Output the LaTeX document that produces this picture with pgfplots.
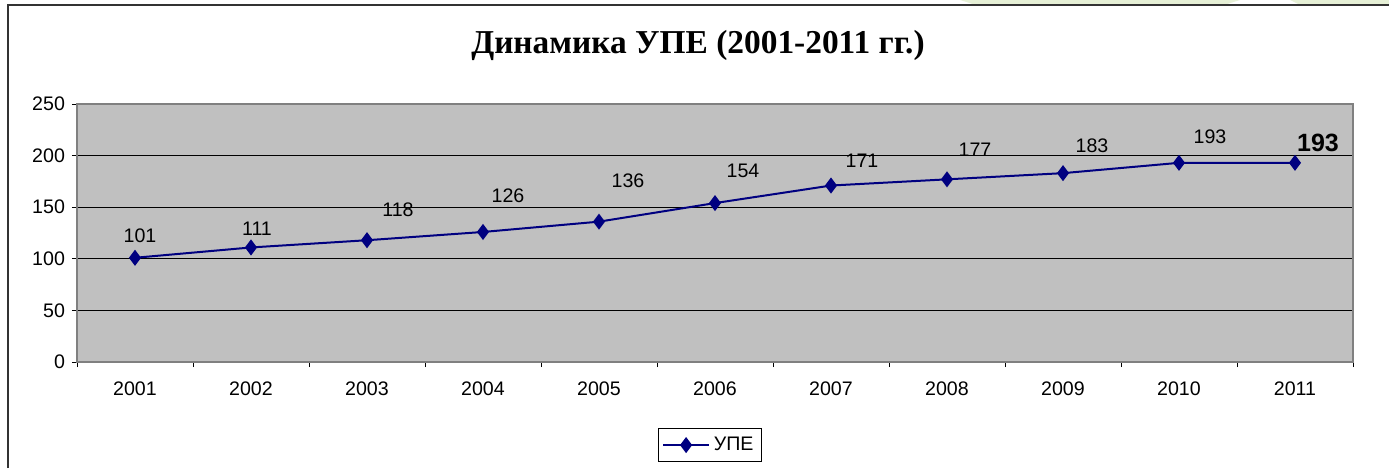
\documentclass[border=0pt]{standalone}
\usepackage{pgfplots}
\pgfplotsset{compat=1.18}
\usepackage{pgfplotstable}
\usepackage{fontspec}
\setmainfont{Liberation Sans}
\newfontfamily\titlefont{Liberation Serif}
\definecolor{plotbg}{RGB}{192,192,192}
\definecolor{navyline}{RGB}{0,0,128}
\definecolor{framegray}{RGB}{128,128,128}
\definecolor{lightgreen}{RGB}{230,240,214}

\pgfplotstableread{
x y dx dy
1 101 2.5 11
2 111 3 9.5
3 118 15.5 15
4 126 12.5 18
5 136 14.5 20.5
6 154 14 16
7 171 15.5 12.5
8 177 14 15
9 183 14.5 13.5
10 193 15.5 13
}\labeltable

\pgfplotstableread{
x y
1 101
2 111
3 118
4 126
5 136
6 154
7 171
8 177
9 183
10 193
11 193
}\datatable

\begin{document}
\begin{tikzpicture}
\path[use as bounding box] (0,0) rectangle (694.5pt,234pt);
% background strip
\fill[lightgreen] (480pt,234pt) -- (620pt,234pt) -- (612pt,231.5pt) -- (488pt,231.5pt) -- cycle;
\fill[lightgreen] (645pt,234pt) -- (694.5pt,234pt) -- (694.5pt,231.5pt) -- (650pt,231.5pt) -- cycle;
% outer frame
\draw[line width=1pt, black!80] (3.8pt,0pt) -- (3.8pt,231.5pt) -- (694.5pt,231.5pt);
% title
\node[font=\titlefont\bfseries\fontsize{16.7}{19}\selectfont, anchor=center] at (349pt,211.5pt) {Динамика УПЕ (2001-2011 гг.)};
\begin{axis}[
  at={(38.5pt,53pt)}, anchor=south west,
  scale only axis, width=638pt, height=129pt,
  xmin=0.5, xmax=11.5, ymin=0, ymax=250,
  xtick={0.5,1.5,...,11.5},
  x tick label as interval,
  xticklabels={2001,2002,2003,2004,2005,2006,2007,2008,2009,2010,2011},
  ytick={0,50,100,150,200,250},
  xtick pos=bottom, ytick pos=left,
  tick align=outside, major tick length=2.5pt,
  tick style={black, line width=0.4pt},
  ymajorgrids, grid style={black, line width=0.5pt},
  axis line style={framegray, line width=0.6pt},
  axis background/.style={fill=plotbg},
  /pgf/number format/assume math mode=true,
  tick label style={font=\fontsize{9.8}{11}\selectfont},
  xticklabel style={yshift=-4pt},
  legend style={at={(0.496,-0.322)}, anchor=center, draw=black, fill=white,
    font=\fontsize{9.8}{11}\selectfont, inner xsep=2pt, inner ysep=2pt, line width=0.5pt},
  legend image code/.code={\draw[mark repeat=2,mark phase=2,#1] plot coordinates {(0cm,0cm) (0.4cm,0cm) (0.8cm,0cm)};},
  clip=false,
]
\addplot[navyline, line width=1pt, mark=diamond*, mark size=3.2pt, mark options={fill=navyline, draw=navyline}] table[x=x,y=y] {\datatable};
\addlegendentry{УПЕ}
\addplot[draw=none, mark=none, forget plot,
  visualization depends on={\thisrow{dx} \as \dx},
  visualization depends on={\thisrow{dy} \as \dy},
  point meta=explicit,
  nodes near coords,
  every node near coord/.append style={anchor=center, text=black, font=\fontsize{9.8}{11}\selectfont, xshift=\dx pt, yshift=\dy pt, inner sep=0pt},
] table[x=x,y=y,meta=y] {\labeltable};
\addplot[draw=none, mark=none, forget plot,
  point meta=explicit,
  nodes near coords,
  every node near coord/.append style={anchor=center, text=black, font=\bfseries\fontsize{12.5}{14}\selectfont, xshift=11.5pt, yshift=10pt, inner sep=0pt},
] coordinates {(11,193) [193]};
\end{axis}
\end{tikzpicture}
\end{document}
